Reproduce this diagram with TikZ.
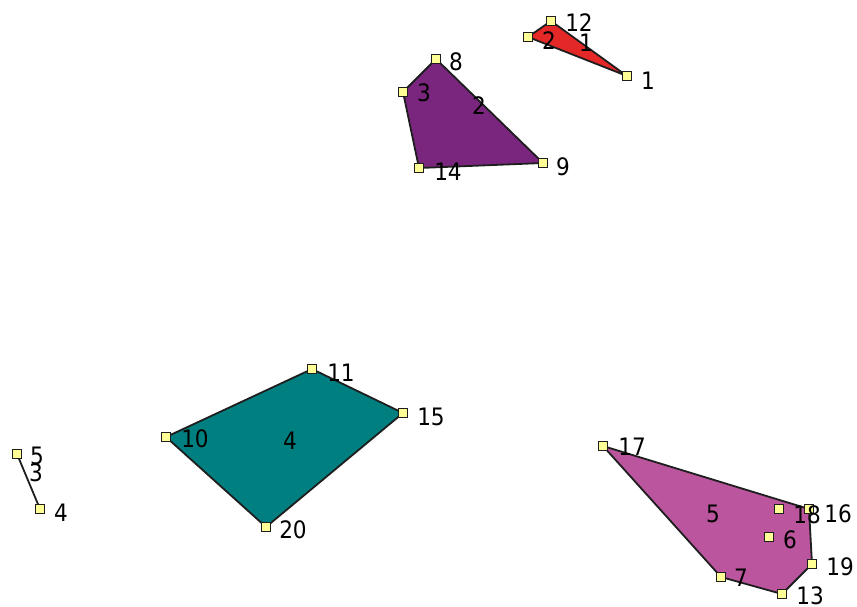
\documentclass[tikz,border=0pt]{standalone}
\usepackage{fontspec}
\newfontfamily\labfont{DejaVu Sans Condensed}
\definecolor{cred}{RGB}{228,40,40}
\definecolor{cpurple}{RGB}{122,38,126}
\definecolor{cteal}{RGB}{0,127,128}
\definecolor{cpink}{RGB}{186,85,158}
\definecolor{cmark}{RGB}{255,255,150}
\definecolor{cedge}{RGB}{30,30,30}
\tikzset{
  poly/.style={draw=cedge, line width=1.8pt, line join=round},
  vmark/.style={draw=cedge, fill=cmark, line width=1.2pt, minimum size=8.5pt, inner sep=0pt, rectangle},
  lab/.style={inner sep=0pt, text=black, font=\labfont\fontsize{24}{28}\selectfont}
}
\begin{document}
\begin{tikzpicture}[x=1pt,y=-1pt]
\useasboundingbox (0,0) rectangle (857,606);
% coordinates
\coordinate (p1) at (627,76);
\coordinate (p2) at (528,37);
\coordinate (p12) at (551,21);
\coordinate (p8) at (436,59);
\coordinate (p3) at (403,92);
\coordinate (p14) at (419,168);
\coordinate (p9) at (543,163);
\coordinate (p11) at (312,369);
\coordinate (p10) at (166,437);
\coordinate (p20) at (266,527);
\coordinate (p15) at (403,413);
\coordinate (p5) at (17,454);
\coordinate (p4) at (40,509);
\coordinate (p17) at (603,446);
\coordinate (p16) at (809,509);
\coordinate (p18) at (779,509);
\coordinate (p6) at (769,537);
\coordinate (p19) at (812,564);
\coordinate (p13) at (782,594);
\coordinate (p7) at (721,577);
% polygons
\draw[poly, fill=cred] (p12) -- (p1) -- (p2) -- cycle;
\draw[poly, fill=cpurple] (p8) -- (p9) -- (p14) -- (p3) -- cycle;
\draw[poly, fill=cteal] (p11) -- (p15) -- (p20) -- (p10) -- cycle;
\draw[poly, fill=cpink] (p17) -- (p16) -- (p19) -- (p13) -- (p7) -- cycle;
\draw[poly] (p5) -- (p4);
% feature labels
\node[lab] (f1) at (586,43) {1};
\node[lab] (f2) at (479,106) {2};
\node[lab] (f3) at (36,473) {3};
\node[lab] (f4) at (290,441) {4};
\node[lab] (f5) at (713,514) {5};
% vertex markers
\foreach \p in {p1,p2,p12,p8,p3,p14,p9,p11,p10,p20,p15,p5,p4,p17,p16,p18,p6,p19,p13,p7}
  \node[vmark] (m\p) at (\p) {};
% vertex labels
\node[lab] (l1) at (648,81) {1};
\node[lab] (l2) at (549,41) {2};
\node[lab] (l12) at (579,23) {12};
\node[lab] (l8) at (456,62) {8};
\node[lab] (l3) at (424,93) {3};
\node[lab] (l14) at (448,172) {14};
\node[lab] (l9) at (563,167) {9};
\node[lab] (l11) at (341,373) {11};
\node[lab] (l10) at (195,439) {10};
\node[lab] (l15) at (431,417) {15};
\node[lab] (l20) at (293,530) {20};
\node[lab] (l5) at (37,456) {5};
\node[lab] (l4) at (61,513) {4};
\node[lab] (l17) at (632,447) {17};
\node[lab] (l18) at (807,515) {18};
\node[lab] (l16) at (838,514) {16};
\node[lab] (l6) at (790,540) {6};
\node[lab] (l19) at (840,567) {19};
\node[lab] (l7) at (741,578) {7};
\node[lab] (l13) at (810,596) {13};
\end{tikzpicture}
\end{document}
